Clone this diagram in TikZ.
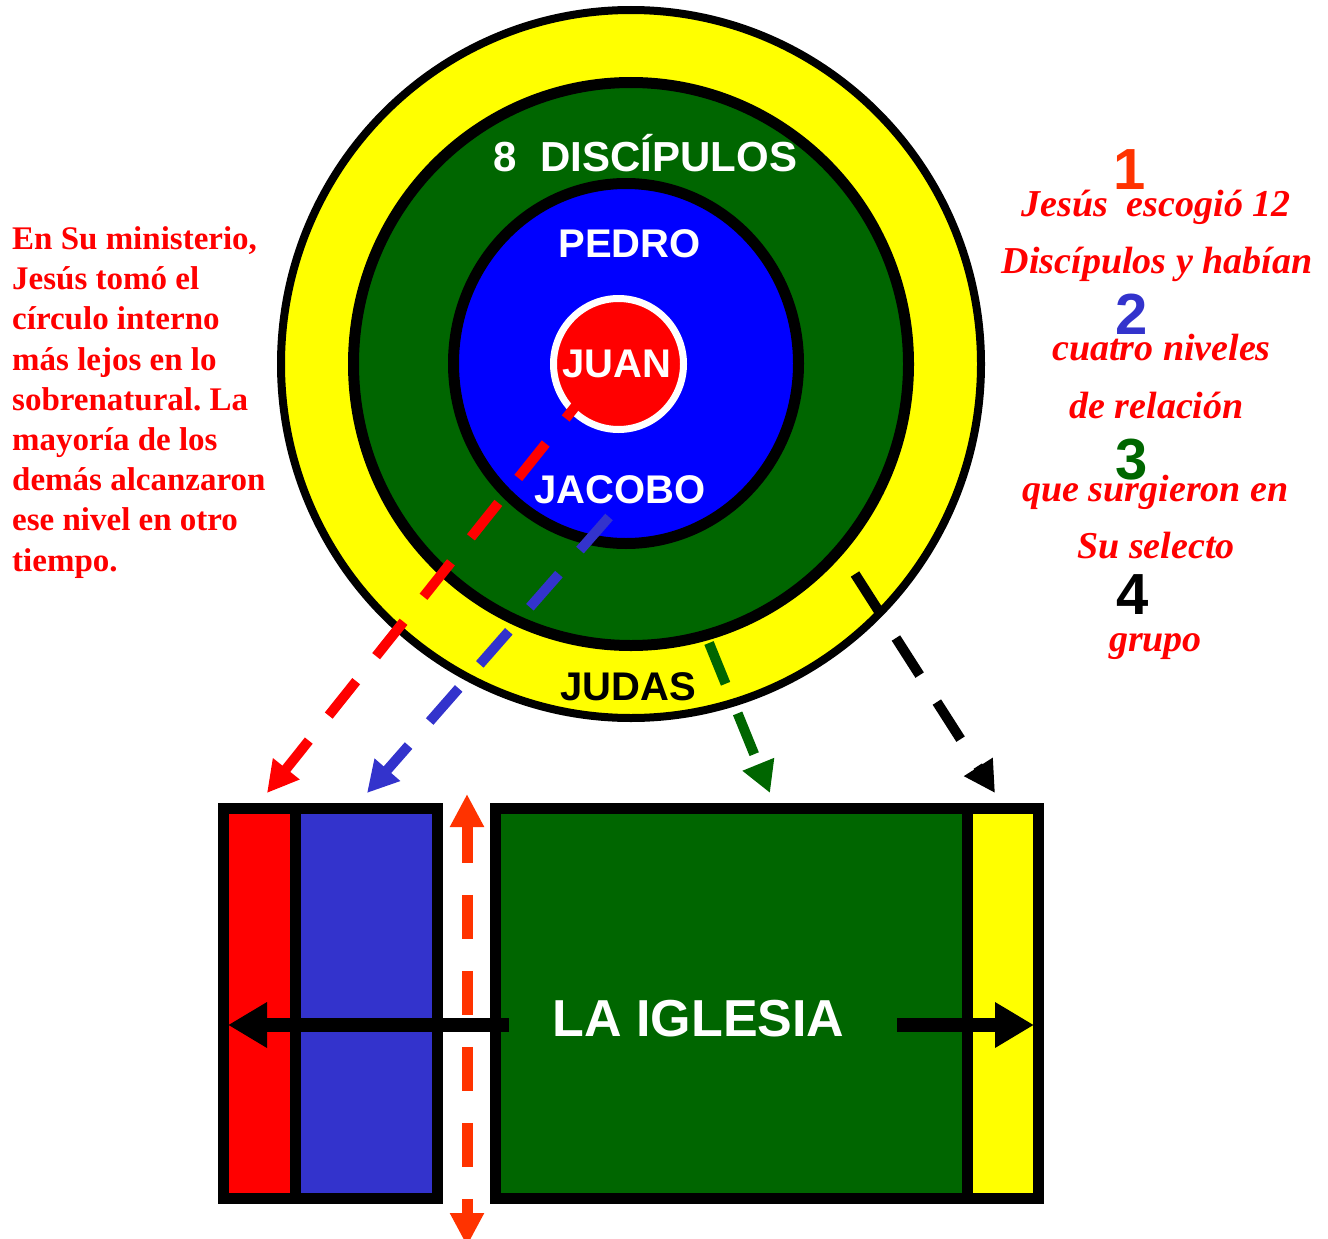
\documentclass[tikz,border=0pt]{standalone}
\usepackage{fontspec}
\setmainfont{Liberation Serif}
\setsansfont{Liberation Sans}
\usetikzlibrary{arrows.meta}
\definecolor{juanred}{HTML}{FF0000}
\definecolor{pedroblue}{HTML}{0000FF}
\definecolor{discgreen}{HTML}{006600}
\definecolor{judasyellow}{HTML}{FFFF00}
\definecolor{boxblue}{HTML}{3333CC}
\definecolor{tipsorange}{HTML}{FF3300}
\tikzset{
  circlelabel/.style={font=\sffamily\bfseries\fontsize{40}{48}\selectfont,
    text=white, inner sep=0pt, anchor=base},
  bignum/.style={font=\sffamily\bfseries\fontsize{58}{60}\selectfont,
    inner sep=0pt, anchor=base},
  rightnote/.style={font=\bfseries\itshape\fontsize{38}{44}\selectfont,
    text=juanred, inner sep=0pt, anchor=base},
  dasharrow/.style={line width=10pt, dash pattern=on 44pt off 32pt,
    -{Triangle[length=31pt,width=32pt]}},
  boxline/.style={draw=black, line width=11pt},
}
\begin{document}
\begin{tikzpicture}[x=1pt, y=-1pt]
\useasboundingbox (0,0) rectangle (1328,1239);
% Rings of the twelve
\filldraw[fill=judasyellow, line width=8pt] (631,364) ellipse [x radius=350, y radius=354];
\filldraw[fill=discgreen, line width=11pt] (631,364) ellipse [x radius=277.5, y radius=281.5];
\filldraw[fill=pedroblue, line width=11pt] (626,363.5) ellipse [x radius=172.5, y radius=180];
\filldraw[fill=juanred, draw=white, line width=7pt] (618.5,364) ellipse [x radius=65, y radius=65.5];
\node[circlelabel, font=\sffamily\bfseries\fontsize{42}{48}\selectfont] (disc) at (645.5,171) {8~~DISCÍPULOS};
\node[circlelabel] (pedro) at (629.5,257) {PEDRO};
\node[circlelabel] (juan) at (617,377) {JUAN};
\node[circlelabel] (jacobo) at (620,503) {JACOBO};
\node[circlelabel, text=black] (judas) at (628,700) {JUDAS};
% Note on the left
\node[font=\bfseries\fontsize{33}{40.2}\selectfont, text=juanred, align=left,
  inner sep=0pt, anchor=base west] (ministerio) at (12,571)
  {En Su ministerio,\\Jesús tomó el\\círculo interno\\más lejos en lo\\
   sobrenatural.\ La\\mayoría de los\\demás alcanzaron\\ese nivel en otro\\tiempo.};
% Numbered note on the right
\node[bignum, text=tipsorange] (num1) at (1130,189) {1};
\node[bignum, text=boxblue] (num2) at (1131.5,334) {2};
\node[bignum, text=discgreen] (num3) at (1131.5,479) {3};
\node[bignum, text=black] (num4) at (1132.5,614) {4};
\node[rightnote] (note1) at (1156,216) {Jesús~~escogió 12};
\node[rightnote] (note2) at (1157,273) {Discípulos y habían};
\node[rightnote] (note3) at (1161.5,360) {cuatro niveles};
\node[rightnote] (note4) at (1156.5,418) {de relación};
\node[rightnote] (note5) at (1155.5,501) {que surgieron en};
\node[rightnote] (note6) at (1156,558) {Su selecto};
\node[rightnote] (note7) at (1155.5,651) {grupo};
% The church
\filldraw[boxline, fill=juanred] (223.5,808.5) rectangle (295.5,1198.5);
\filldraw[boxline, fill=boxblue] (295.5,808.5) rectangle (437.5,1198.5);
\filldraw[boxline, fill=discgreen] (495.5,808.5) rectangle (967.5,1198.5);
\filldraw[boxline, fill=judasyellow] (967.5,808.5) rectangle (1038.5,1198.5);
\node[circlelabel, font=\sffamily\bfseries\fontsize{52}{56}\selectfont] (iglesia) at (698.5,1036) {LA IGLESIA};
% Arrow ends
\coordinate (redstart) at (590,388);
\coordinate (redend) at (267,793);
\coordinate (bluestart) at (609,517);
\coordinate (blueend) at (367,793);
\coordinate (greenstart) at (709,643);
\coordinate (greenend) at (770,793);
\coordinate (blackstart) at (855,574);
\coordinate (blackend) at (995,793);
\coordinate (leftstart) at (509,1025);
\coordinate (leftend) at (228,1025);
\coordinate (rightstart) at (897,1025);
\coordinate (rightend) at (1034,1025);
\coordinate (gaptop) at (467,794);
\coordinate (gapbottom) at (467,1246);
% Levels down to the church
\draw[dasharrow, juanred, dash phase=5pt] (redstart) -- (redend);
\draw[dasharrow, boxblue] (bluestart) -- (blueend);
\draw[dasharrow, discgreen] (greenstart) -- (greenend);
\draw[dasharrow, black] (blackstart) -- (blackend);
\draw[line width=14pt, -{Triangle[length=39pt,width=43pt]}] (leftstart) -- (leftend);
\draw[line width=14pt, -{Triangle[length=39pt,width=43pt]}] (rightstart) -- (rightend);
\draw[tipsorange, line width=11pt, dash pattern=on 44pt off 32pt, dash phase=6pt,
  {Triangle[length=33pt,width=32pt]}-{Triangle[length=33pt,width=32pt]}] (gaptop) -- (gapbottom);
\end{tikzpicture}
\end{document}
